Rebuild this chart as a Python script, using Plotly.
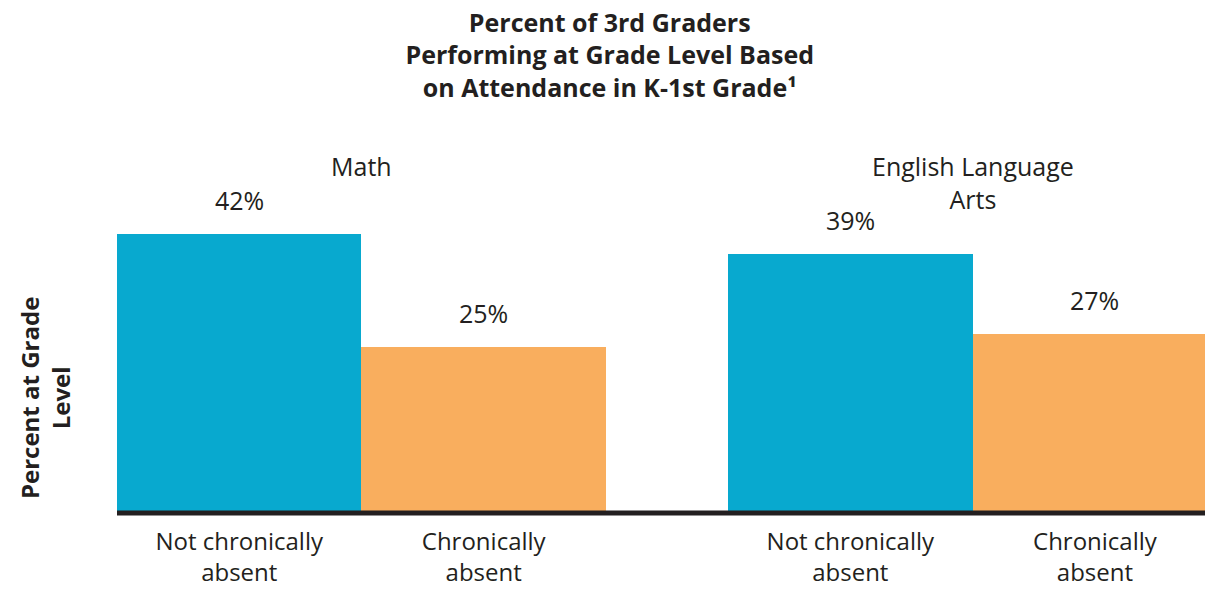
from plotly.subplots import make_subplots
from plotly.graph_objects import Bar

# percent of 3rd graders at grade level, by K-1st attendance
subjects = ["Math", "English Language<br>Arts"]
groups = ["Not chronically<br>absent", "Chronically<br>absent"]
not_chronic = [42, 39]
chronic = [25, 27]

BLUE = "#08A9CF"
ORANGE = "#F9AE5E"
INK = "#231F20"
FONT = "Open Sans"

fig = make_subplots(rows=1, cols=2, shared_yaxes=True)

for i, subj in enumerate(subjects):
    vals = [not_chronic[i], chronic[i]]
    fig.add_trace(
        Bar(x=groups, y=vals, width=1, marker=dict(color=[BLUE, ORANGE], line=dict(width=0)),
            showlegend=False, hoverinfo="skip"),
        row=1, col=i + 1,
    )
    xr = "x" if i == 0 else "x2"
    for g, v in zip(groups, vals):
        fig.add_annotation(x=g, y=v, xref=xr, yref="y", text=f"{v}%", showarrow=False,
                           yanchor="bottom", yshift=15, font=dict(size=25, color=INK))
    # subject header
    fig.add_annotation(x=0.5, y=0.955, xref=xr, yref="paper", text=subj, showarrow=False,
                       yanchor="top", font=dict(size=25, color=INK))

# y title
fig.add_annotation(x=-0.0662, y=0.30, xref="paper", yref="paper", xanchor="center", yanchor="middle",
                   text="<b>Percent at Grade<br>Level</b>", textangle=-90, showarrow=False,
                   font=dict(size=24, color=INK))

# baseline (paper refs so it isn't clipped by the plot area)
fig.add_shape(type="line", xref="paper", yref="paper", x0=0, x1=1, y0=0, y1=0,
              line=dict(color=INK, width=5))

fig.update_xaxes(showgrid=False, zeroline=False, showline=False, ticks="", automargin=False,
                 tickfont=dict(size=24, color=INK), ticklabelstandoff=12)
fig.update_xaxes(domain=[0, 0.4494], range=[-0.5, 1.5], row=1, col=1)
fig.update_xaxes(domain=[0.5616, 1], range=[-0.5, 1.45], row=1, col=2)
fig.update_yaxes(range=[0, 57.7], showgrid=False, zeroline=False, showticklabels=False,
                 showline=False, automargin=False)

fig.update_layout(
    width=1205, height=590,
    margin=dict(l=117, r=0, t=130, b=77, autoexpand=False),
    paper_bgcolor="white", plot_bgcolor="white",
    font=dict(family=FONT, color=INK),
    bargap=0,
    title=dict(
        text="<b>Percent of 3rd Graders<br>Performing at Grade Level Based<br>on Attendance in K-1st Grade¹</b>",
        x=0.506, xanchor="center", y=0.946, yanchor="middle", yref="container",
        font=dict(size=25, color=INK),
    ),
)

# drop the default 8px page margin so the figure fills the window
fig.write_html("out.html", config={"displayModeBar": False},
               post_script="document.body.style.margin='0';")
